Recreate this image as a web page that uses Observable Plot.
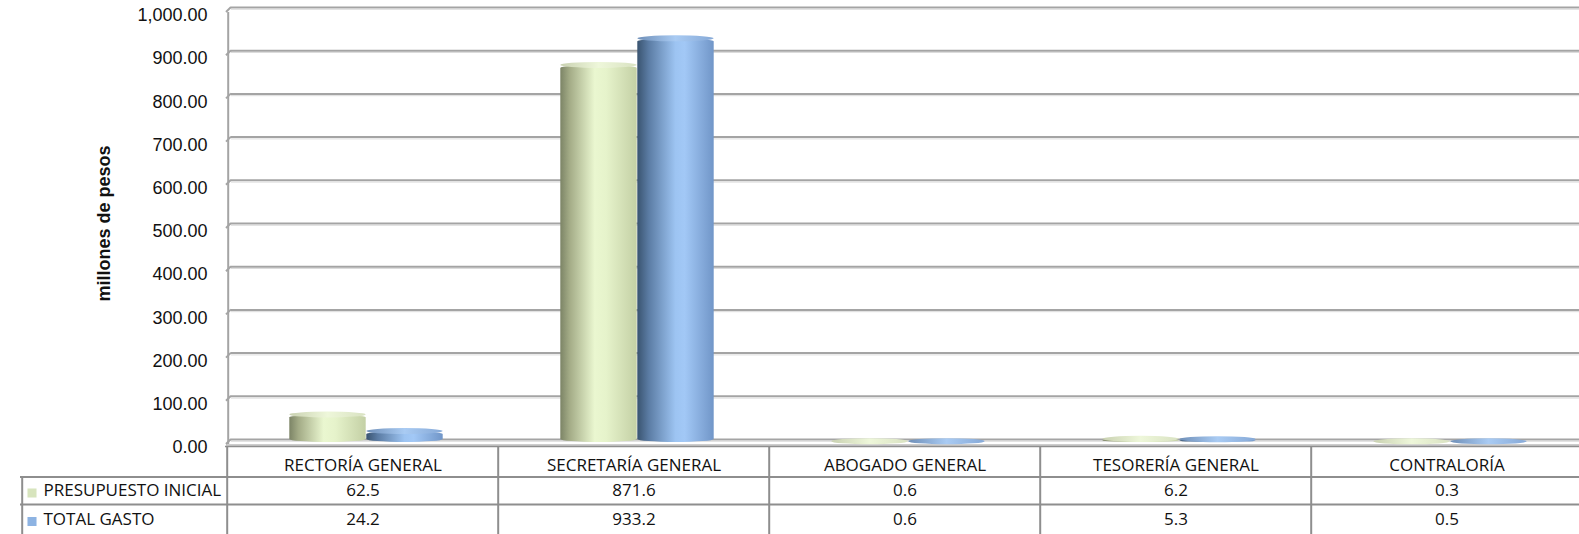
<!DOCTYPE html>
<html><head><meta charset="utf-8">
<script src="https://cdn.jsdelivr.net/npm/d3@7"></script>
<script src="https://cdn.jsdelivr.net/npm/@observablehq/plot@0.6"></script>
<style>html,body{margin:0;padding:0;background:#fff;overflow:hidden}</style>
</head><body><div id="chart"></div>
<script>
const categories = ["RECTORÍA GENERAL", "SECRETARÍA GENERAL", "ABOGADO GENERAL", "TESORERÍA GENERAL", "CONTRALORÍA"];
const presupuestoInicial = [62.5, 871.6, 0.6, 6.2, 0.3];
const totalGasto = [24.2, 933.2, 0.6, 5.3, 0.5];
const seriesNames = ["PRESUPUESTO INICIAL", "TOTAL GASTO"];
const yTicks = [0, 100, 200, 300, 400, 500, 600, 700, 800, 900, 1000];
const yTitle = "millones de pesos";

const rows = categories.map((c, i) => ({cat: c, p: presupuestoInicial[i], t: totalGasto[i]}));

const W = 1583, H = 534, ML = 225, MT = 7, MB = 95;
const band = (W - ML) / categories.length;
const half = band / 2;
const barW = 77, shift = 3.5, depth = 2.5;
const gIn = {insetLeft: half - barW + shift, insetRight: half - shift};
const bIn = {insetLeft: half + shift, insetRight: half - barW - shift};
const tableFont = "Open Sans";
const tableSize = 17;
const lineC = "#8e8e8e";
const fmt1 = d3.format(".1f");

const plot = Plot.plot({
  width: W, height: H,
  marginLeft: ML, marginRight: 0, marginTop: MT, marginBottom: MB,
  style: {maxWidth: "none", fontFamily: "Liberation Sans", background: "#fff", overflow: "visible"},
  x: {domain: categories, padding: 0, axis: null},
  y: {domain: [0, 1000], axis: null},
  marks: [
    // back gridlines
    Plot.ruleY(yTicks, {y: d => d, insetLeft: 6, stroke: "#a4a4a4", strokeWidth: 2}),
    Plot.ruleY(yTicks, {y: d => d, insetLeft: 6, dy: 1.8, stroke: "#dcdcdc", strokeWidth: 1}),
    // floor front edge
    Plot.ruleY([0], {dy: 5.5, insetLeft: 1, stroke: "#bdbdbd", strokeWidth: 1.5}),
    // left wall
    Plot.ruleX([categories[0]], {dx: -half + 1, insetTop: 5, insetBottom: -5, stroke: "#a4a4a4", strokeWidth: 2}),
    // bars (cylinders)
    Plot.barY(rows, {x: "cat", y1: 0, y2: "p", fill: "url(#gGreen)", ...gIn, dy: depth, insetBottom: -0.5, rx: barW / 2, ry: 3}),
    Plot.barY(rows, {x: "cat", y1: 0, y2: "t", fill: "url(#gBlue)", ...bIn, dy: depth, insetBottom: -0.5, rx: barW / 2, ry: 3}),
    Plot.barY(rows, {x: "cat", y1: "p", y2: "p", fill: "url(#gGreenTop)", ...gIn, dy: depth, insetTop: -3, insetBottom: -3, rx: barW / 2, ry: 3}),
    Plot.barY(rows, {x: "cat", y1: "t", y2: "t", fill: "url(#gBlueTop)", ...bIn, dy: depth, insetTop: -3, insetBottom: -3, rx: barW / 2, ry: 3}),
    // y tick labels
    Plot.text(yTicks, {y: d => d, text: d => d3.format(",.2f")(d), frameAnchor: "left", textAnchor: "end", dx: -18, dy: 8, fontSize: 18, fill: "#111"}),
    // y title
    Plot.text([yTitle], {frameAnchor: "left", textAnchor: "middle", dx: 104 - ML, rotate: -90, fontWeight: "bold", fontSize: 18, fill: "#111"}),
    // table grid
    Plot.ruleY([0], {dy: 7, stroke: lineC, strokeWidth: 1.5}),
    Plot.ruleY([0], {dy: 37.5, insetLeft: -205, stroke: lineC, strokeWidth: 2}),
    Plot.ruleY([0], {dy: 65, insetLeft: -205, stroke: lineC, strokeWidth: 2}),
    Plot.ruleX(categories, {x: d => d, dx: -half, insetTop: 439, insetBottom: -95, stroke: lineC, strokeWidth: 2}),
    Plot.ruleX([categories[0]], {dx: -half - 205, insetTop: 469.5, insetBottom: -95, stroke: lineC, strokeWidth: 2}),
    // table texts
    Plot.text(rows, {x: "cat", text: "cat", frameAnchor: "bottom", dy: 31, fontSize: tableSize, fontFamily: tableFont, fill: "#111"}),
    Plot.text(rows, {x: "cat", text: d => fmt1(d.p), frameAnchor: "bottom", dy: 56.5, fontSize: tableSize, fontFamily: tableFont, fill: "#111"}),
    Plot.text(rows, {x: "cat", text: d => fmt1(d.t), frameAnchor: "bottom", dy: 85, fontSize: tableSize, fontFamily: tableFont, fill: "#111"}),
    Plot.text([seriesNames[0]], {frameAnchor: "bottom-left", dx: 43 - ML, dy: 56.5, textAnchor: "start", fontSize: tableSize, fontFamily: tableFont, fill: "#111"}),
    Plot.text([seriesNames[1]], {frameAnchor: "bottom-left", dx: 43 - ML, dy: 85, textAnchor: "start", fontSize: tableSize, fontFamily: tableFont, fill: "#111"}),
    Plot.dot([seriesNames[0]], {frameAnchor: "bottom-left", dx: 31.5 - ML, dy: 53.5, symbol: "square", r: 5.1, fill: "#d7e4bd"}),
    Plot.dot([seriesNames[1]], {frameAnchor: "bottom-left", dx: 31.5 - ML, dy: 82, symbol: "square", r: 5.1, fill: "#8db3e2"})
  ]
});

const ns = "http://www.w3.org/2000/svg";
plot.insertAdjacentHTML("afterbegin", `<defs>
<linearGradient id="gGreen" x1="0" x2="1" y1="0" y2="0">
 <stop offset="0" stop-color="#7c8466"/><stop offset="0.12" stop-color="#a3ab86"/>
 <stop offset="0.45" stop-color="#eaf7d0"/><stop offset="0.6" stop-color="#e6f3cb"/>
 <stop offset="1" stop-color="#c4d0a5"/></linearGradient>
<linearGradient id="gBlue" x1="0" x2="1" y1="0" y2="0">
 <stop offset="0" stop-color="#3a5470"/><stop offset="0.15" stop-color="#5b7ca4"/>
 <stop offset="0.5" stop-color="#9dc4f2"/><stop offset="0.62" stop-color="#a2c8f6"/>
 <stop offset="1" stop-color="#7196c8"/></linearGradient>
<linearGradient id="gGreenTop" x1="0" x2="1" y1="0" y2="0">
 <stop offset="0" stop-color="#c9d1b1"/><stop offset="0.5" stop-color="#eef7da"/><stop offset="1" stop-color="#d9e2c2"/></linearGradient>
<linearGradient id="gBlueTop" x1="0" x2="1" y1="0" y2="0">
 <stop offset="0" stop-color="#6f8fb8"/><stop offset="0.5" stop-color="#a9cbf3"/><stop offset="1" stop-color="#86a9d7"/></linearGradient>
</defs>`);
// 3D wall corners of gridlines
const ys = plot.scale("y");
const g = document.createElementNS(ns, "g");
for (const t of yTicks) {
  const yy = ys.apply(t);
  const l = document.createElementNS(ns, "line");
  l.setAttribute("x1", ML + 1); l.setAttribute("y1", yy + 5);
  l.setAttribute("x2", ML + 6); l.setAttribute("y2", yy);
  l.setAttribute("stroke", "#a4a4a4"); l.setAttribute("stroke-width", 2);
  g.appendChild(l);
}
plot.appendChild(g);
document.getElementById("chart").appendChild(plot);
</script></body></html>
